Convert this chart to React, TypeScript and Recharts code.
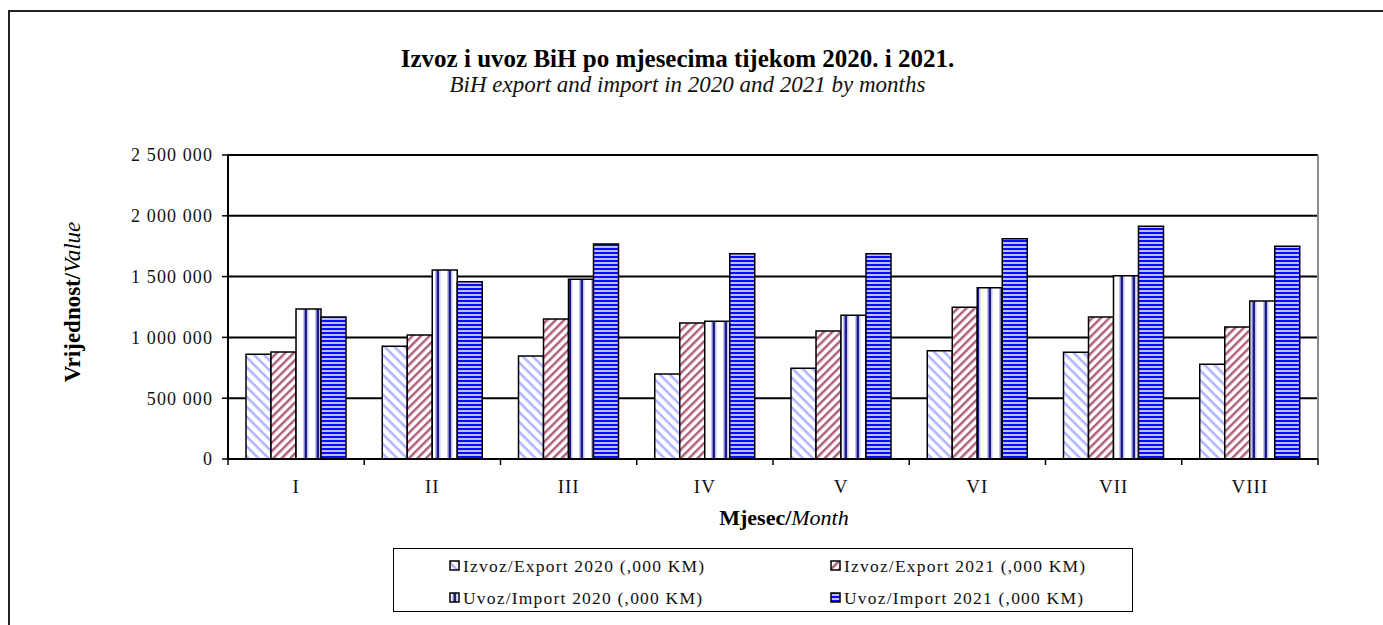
import { Bar, BarChart, CartesianGrid, Label, Legend, XAxis, YAxis } from "recharts";

const months = ["I", "II", "III", "IV", "V", "VI", "VII", "VIII"];
const export2020 = [862000, 927000, 847000, 700000, 747000, 891000, 877000, 779000];
const export2021 = [880000, 1020000, 1151000, 1118000, 1053000, 1248000, 1168000, 1086000];
const import2020 = [1234000, 1554000, 1478000, 1132000, 1182000, 1409000, 1508000, 1299000];
const import2021 = [1168000, 1458000, 1768000, 1688000, 1688000, 1812000, 1914000, 1749000];
const yTicks = [0, 500000, 1000000, 1500000, 2000000, 2500000];

const series = [
    { key: "exp20", name: "Izvoz/Export 2020 (,000 KM)", fill: "url(#pExp20)" },
    { key: "exp21", name: "Izvoz/Export 2021 (,000 KM)", fill: "url(#pExp21)" },
    { key: "imp20", name: "Uvoz/Import 2020 (,000 KM)", fill: "url(#pImp20)" },
    { key: "imp21", name: "Uvoz/Import 2021 (,000 KM)", fill: "url(#pImp21)" },
];

const chartData = months.map((m, i) => ({
    month: m,
    exp20: export2020[i],
    exp21: export2021[i],
    imp20: import2020[i],
    imp21: import2021[i],
}));

const FONT = "'Liberation Serif', serif";

const formatValue = (v: number) => String(v).replace(/\B(?=(\d{3})+(?!\d))/g, " ");

// month label in the middle, tick marks on the category borders
const MonthTick = (props: any) => {
    const { x, y, payload, index } = props;
    const half = payload.offset || 68;
    return (
        <g>
            <line x1={x - half} x2={x - half} y1={y} y2={y + 6} stroke="#000" strokeWidth={1.5} />
            {index === months.length - 1 && (
                <line x1={x + half} x2={x + half} y1={y} y2={y + 6} stroke="#000" strokeWidth={1.5} />
            )}
            <text x={x} y={y + 34} textAnchor="middle" fontSize={19} letterSpacing={1} fill="#111" fontFamily={FONT}>
                {payload.value}
            </text>
        </g>
    );
};

const LegendBox = ({ payload }: any) => {
    const items = series.map(s => {
        const p = (payload || []).find((e: any) => e.dataKey === s.key);
        return { ...s, name: p?.value ?? s.name };
    });
    return (
        <div
            style={{
                width: 740,
                height: 64,
                border: "1.5px solid #000",
                boxSizing: "border-box",
                display: "grid",
                gridTemplateColumns: "381px 1fr",
                gridTemplateRows: "32px 32px",
                paddingLeft: 55,
                paddingTop: 1,
                fontFamily: FONT,
                fontSize: 17.5,
                letterSpacing: 1.2,
                color: "#111",
            }}
        >
            {items.map(it => (
                <div key={it.key} style={{ display: "flex", alignItems: "center" }}>
                    <svg width={12} height={12} style={{ marginRight: 2 }}>
                        <rect x={1} y={1} width={9} height={9} fill={it.fill} stroke="#000" strokeWidth={1.5} />
                    </svg>
                    <span>{it.name}</span>
                </div>
            ))}
        </div>
    );
};

const YTitle = () => (
    <text
        x={72}
        y={302}
        transform="rotate(-90, 72, 302)"
        textAnchor="middle"
        dominantBaseline="central"
        fontSize={23}
        fontFamily={FONT}
        fill="#000"
    >
        <tspan fontWeight="bold">Vrijednost/</tspan>
        <tspan fontStyle="italic">Value</tspan>
    </text>
);

export default function App() {
    return (
        <div
            style={{
                position: "absolute",
                left: 0,
                top: 0,
                width: 1383,
                height: 625,
                overflow: "hidden",
                background: "#fff",
                fontFamily: FONT,
            }}
        >
            <svg width={0} height={0} style={{ position: "absolute" }}>
                <defs>
                    <pattern id="pExp20" width="7" height="7" patternUnits="userSpaceOnUse" patternTransform="rotate(45)">
                        <rect width="7" height="7" fill="#fff" />
                        <rect width="7" height="2.5" fill="#aeb4ff" />
                    </pattern>
                    <pattern id="pExp21" width="6" height="6" patternUnits="userSpaceOnUse" patternTransform="rotate(-45)">
                        <rect width="6" height="6" fill="#fff" />
                        <rect width="6" height="2.5" fill="#b0607f" />
                    </pattern>
                    <pattern id="pImp20" width="12" height="12" patternUnits="userSpaceOnUse">
                        <rect width="12" height="12" fill="#fff" />
                        <rect x="3" width="1.5" height="12" fill="#c4c4f0" />
                        <rect x="4.5" width="2.5" height="12" fill="#1c1c8c" />
                        <rect x="7" width="1.5" height="12" fill="#c4c4f0" />
                    </pattern>
                    <pattern id="pImp21" width="4" height="4" patternUnits="userSpaceOnUse">
                        <rect width="4" height="4" fill="#bcbcff" />
                        <rect width="4" height="2" fill="#0a0aff" />
                    </pattern>
                </defs>
            </svg>

            <div style={{ position: "absolute", left: 8, top: 10, width: 1500, height: 800, borderLeft: "2px solid #222", borderTop: "2px solid #222" }} />

            <div style={{ position: "absolute", left: 0, width: 1355, top: 45, textAlign: "center", fontSize: 25, fontWeight: "bold", color: "#000" }}>
                Izvoz i uvoz BiH po mjesecima tijekom 2020. i 2021.
            </div>
            <div style={{ position: "absolute", left: 0, width: 1375, top: 72, textAlign: "center", fontSize: 23, fontStyle: "italic", color: "#111" }}>
                BiH export and import in 2020 and 2021 by months
            </div>

            <BarChart
                width={1383}
                height={625}
                data={chartData}
                margin={{ top: 155, right: 65, bottom: 42, left: 128 }}
                barCategoryGap={18}
                barGap={0}
                style={{ position: "absolute", left: 0, top: 0 }}
            >
                <CartesianGrid vertical={false} stroke="#000" strokeWidth={2} />
                <CartesianGrid
                    horizontal={false}
                    stroke="#8c8c8c"
                    strokeWidth={2}
                    verticalCoordinatesGenerator={({ offset }: any) => [offset.left + offset.width]}
                />
                <XAxis
                    dataKey="month"
                    height={60}
                    axisLine={{ stroke: "#000", strokeWidth: 2 }}
                    tickLine={false}
                    tickSize={0}
                    tickMargin={0}
                    interval={0}
                    tick={<MonthTick />}
                >
                    <Label
                        position="insideBottom"
                        content={() => (
                            <text x={784} y={525} textAnchor="middle" fontSize={22} fontFamily={FONT} fill="#000">
                                <tspan fontWeight="bold">Mjesec/</tspan>
                                <tspan fontStyle="italic">Month</tspan>
                            </text>
                        )}
                    />
                </XAxis>
                <YAxis
                    width={100}
                    domain={[0, 2500000]}
                    ticks={yTicks}
                    interval={0}
                    tickFormatter={formatValue}
                    axisLine={{ stroke: "#000", strokeWidth: 2 }}
                    tickLine={{ stroke: "#000", strokeWidth: 1.5 }}
                    tickSize={6}
                    tickMargin={9}
                    tick={{ fontSize: 18, fill: "#111", fontFamily: FONT, letterSpacing: 1.1 }}
                >
                    <Label position="insideLeft" content={() => <YTitle />} />
                </YAxis>
                <Legend
                    content={<LegendBox />}
                    wrapperStyle={{ position: "absolute", left: 393, top: 548, width: 740, height: 64 }}
                />
                {series.map(s => (
                    <Bar
                        key={s.key}
                        dataKey={s.key}
                        name={s.name}
                        fill={s.fill}
                        stroke="#000"
                        strokeWidth={1.5}
                        isAnimationActive={false}
                    />
                ))}
            </BarChart>
        </div>
    );
}
